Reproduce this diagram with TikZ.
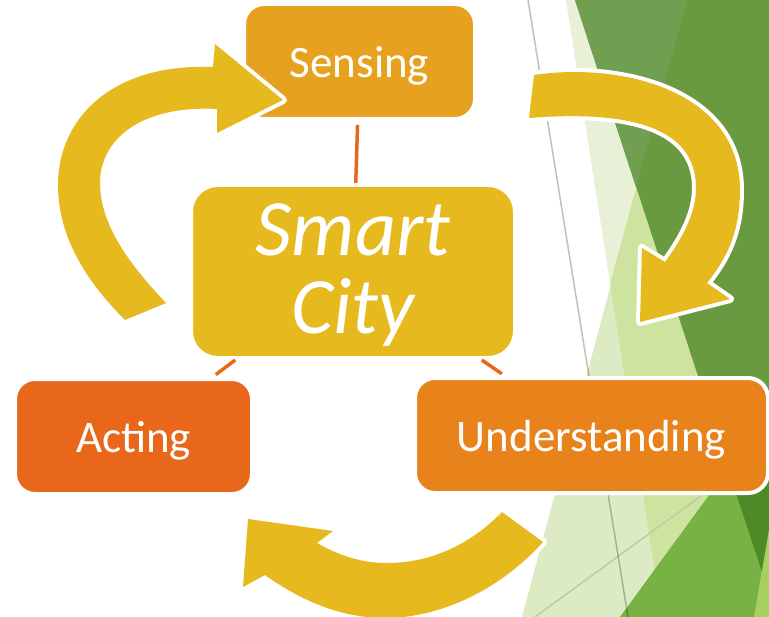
\documentclass[tikz,border=0pt]{standalone}
\usepackage{fontspec}
\setmainfont{Carlito}
\definecolor{cSense}{HTML}{E6A11F}
\definecolor{cYellow}{HTML}{E6BA1F}
\definecolor{cAct}{HTML}{E8671A}
\definecolor{cUnd}{HTML}{E8821B}
\definecolor{gPale}{HTML}{E8F1D8}
\definecolor{gOne}{HTML}{DDEBC5}
\definecolor{gTwo}{HTML}{CFE3A0}
\definecolor{gDark}{HTML}{6A9A40}
\definecolor{gGrey}{HTML}{709F52}
\definecolor{gMid}{HTML}{78B244}
\definecolor{gDeep}{HTML}{4E8A28}
\definecolor{gStrip}{HTML}{A8D060}
\definecolor{gLine}{HTML}{BCCCA4}
\newcommand{\lowtext}[2]{\raisebox{-#1}[\height][\depth]{#2}}
\begin{document}
\begin{tikzpicture}[x=0.75pt,y=-0.75pt,
  box/.style={draw=white, line width=3pt, text=white, align=center, inner sep=0pt},
  smallbox/.style={box, rounded corners=15pt, minimum height=86.25pt, font=\fontsize{33.75}{40}\selectfont},
  conn/.style={draw=cAct, line width=2.6pt},
  bigarrow/.style={fill=cYellow, preaction={draw=white, line width=6pt, line join=round}}]
\useasboundingbox (0,0) rectangle (769,617);
\fill[white] (0,0) rectangle (769,617);
% background facets
\fill[gOne] (687,0) -- (769,0) -- (769,617) -- (522,617) -- cycle;
\fill[gTwo] (687,0) -- (769,0) -- (769,617) -- (662,617) -- (610,283) -- cycle;
\fill[gPale] (566,0) -- (687,0) -- (610,283) -- cycle;
\fill[gDark] (575,0) -- (769,0) -- (769,593) -- cycle;
\fill[gGrey] (575,0) -- (687,0) -- (636,187) -- cycle;
\fill[gMid] (620,617) -- (769,413) -- (769,617) -- cycle;
\fill[gDeep] (769,413) -- (728,469) -- (769,593) -- cycle;
\fill[gStrip] (769,530) -- (769,617) -- (754,617) -- cycle;
\draw[gLine, line width=1.1pt] (535,617) -- (705,493);
\draw[black, opacity=0.25, line width=1.1pt] (528,0) -- (628,617);
% boxes
\node[smallbox, fill=cSense, minimum width=173.25pt] (sensing) at (359.5,61.5) {\lowtext{3pt}{Sensing}};
\node[box, fill=cYellow, rounded corners=20pt, minimum width=243pt, minimum height=129.75pt,
      font=\fontsize{60}{57}\selectfont\itshape] (smart) at (353,271.5)
      {\lowtext{6pt}{\def\arraystretch{1}\begin{tabular}{@{}c@{}}Smart\\City\end{tabular}}};
\node[smallbox, fill=cAct, minimum width=177.75pt] (acting) at (133.5,436.5) {\lowtext{3pt}{Acting}};
\node[smallbox, fill=cUnd, minimum width=264.75pt] (understanding) at (591.5,435.5) {\lowtext{3pt}{Understanding}};
% connectors
\draw[conn, shorten <=3pt] (sensing) -- (smart);
\draw[conn, shorten >=3pt] (smart) -- (acting);
\draw[conn, shorten >=3pt] (smart) -- (understanding);
% curved arrows
\fill[bigarrow] (125,320) .. controls (90,285) and (58,240) .. (58,185)
  .. controls (58,120) and (110,63) .. (213,67) -- (215,44) -- (283,100) -- (217,133) -- (217,109)
  .. controls (140,105) and (100,140) .. (100,183)
  .. controls (100,225) and (130,265) .. (166,303) -- cycle;
\fill[bigarrow] (534,75) .. controls (620,62) and (740,90) .. (740,190)
  .. controls (740,232) and (727,258) .. (707,283) -- (730,299) -- (640,322) -- (642,248) -- (665,262)
  .. controls (684,236) and (696,212) .. (696,188)
  .. controls (696,140) and (655,108) .. (529,118) -- cycle;
\fill[bigarrow] (543,542) .. controls (500,590) and (440,618) .. (385,618)
  .. controls (340,618) and (300,600) .. (265,575) -- (243,587) -- (248,519) -- (333,531) -- (317,543)
  .. controls (340,556) and (362,563) .. (387,563)
  .. controls (430,563) and (470,545) .. (502,512) -- cycle;
\end{tikzpicture}
\end{document}
